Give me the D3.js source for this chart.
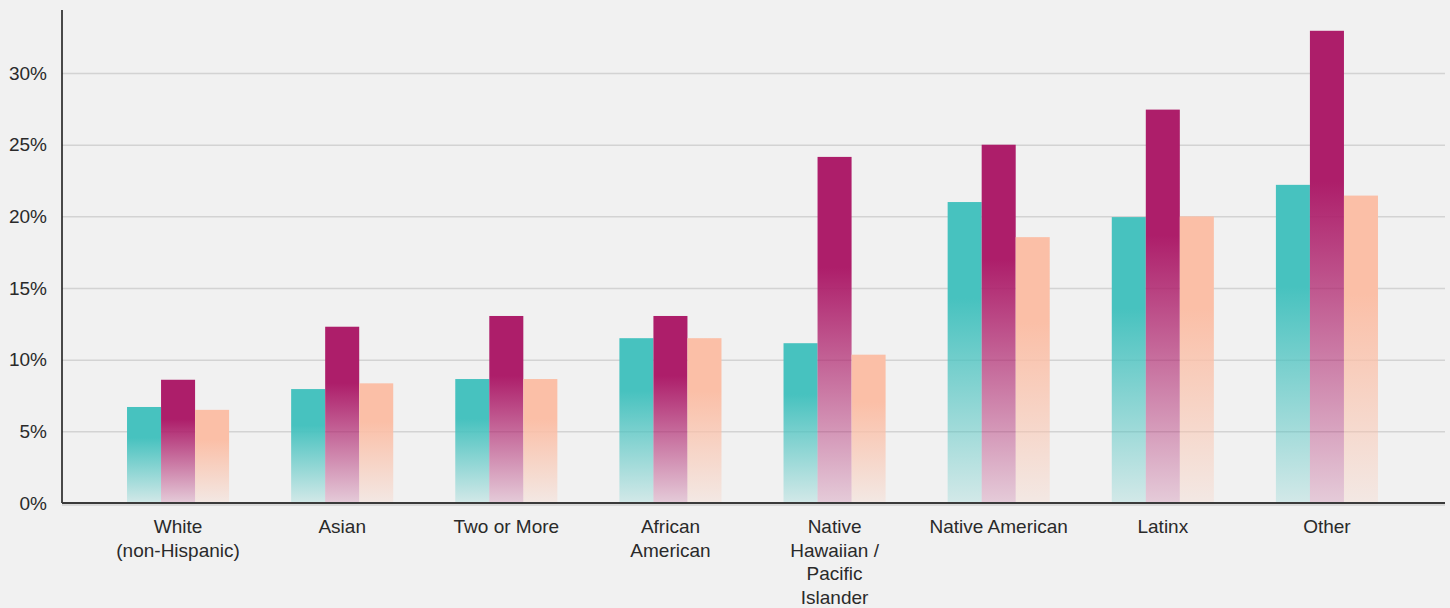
<!DOCTYPE html>
<html>
<head>
<meta charset="utf-8">
<script src="https://cdn.jsdelivr.net/npm/d3@7"></script>
<style>
  html, body { margin: 0; padding: 0; background: #f1f1f1; }
  svg { display: block; font-family: "Liberation Sans", Arial, sans-serif; }
</style>
</head>
<body>
<svg id="chart" width="1450" height="608"></svg>
<script>
// Data
var categories = ["White\n(non-Hispanic)", "Asian", "Two or More", "African\nAmerican",
  "Native\nHawaiian /\nPacific\nIslander", "Native American", "Latinx", "Other"];
var seriesNames = ["a", "b", "c"];
var seriesA = [6.7, 7.95, 8.65, 11.5, 11.15, 21.0, 19.95, 22.2];
var seriesB = [8.6, 12.3, 13.05, 13.05, 24.15, 25.0, 27.45, 32.95];
var seriesC = [6.5, 8.35, 8.65, 11.5, 10.35, 18.55, 20.0, 21.45];
var yTicks = [0, 5, 10, 15, 20, 25, 30];
var colors = ["#47c2bf", "#ad1e6a", "#fbbfa7"];

var svg = d3.select("#chart");
var axisX = 62, plotRight = 1445, baseY = 503, topY = 10;

var y = d3.scaleLinear().domain([0, 34.4]).range([baseY, topY]);
var x = d3.scaleBand().domain(categories).range([96, 1409]).paddingInner(0.378).paddingOuter(0.189);
var xs = d3.scaleBand().domain(seriesNames).range([0, x.bandwidth()]);

// Gradients: solid at top, fading toward the baseline
var defs = svg.append("defs");
colors.forEach(function (c, i) {
  var g = defs.append("linearGradient")
    .attr("id", "grad" + i)
    .attr("x1", 0).attr("y1", 0).attr("x2", 0).attr("y2", 1);
  g.append("stop").attr("offset", "0").attr("stop-color", c).attr("stop-opacity", 1);
  g.append("stop").attr("offset", "0.32").attr("stop-color", c).attr("stop-opacity", 1);
  g.append("stop").attr("offset", "1").attr("stop-color", c).attr("stop-opacity", 0.18);
});

// Grid lines
svg.append("g")
  .attr("transform", "translate(" + axisX + ",0)")
  .call(d3.axisLeft(y).tickValues(yTicks.slice(1)).tickSize(-(plotRight - axisX)).tickFormat(""))
  .call(function (g) {
    g.select(".domain").remove();
    g.selectAll("line").attr("stroke", "#d3d3d3").attr("stroke-width", 1.5);
  });

// Bars
var rows = categories.map(function (c, i) { return [seriesA[i], seriesB[i], seriesC[i]]; });
var groups = svg.append("g").selectAll("g")
  .data(rows)
  .enter().append("g")
  .attr("transform", function (d, i) { return "translate(" + x(categories[i]) + ",0)"; });
groups.selectAll("rect")
  .data(function (d) { return d; })
  .enter().append("rect")
  .attr("x", function (d, j) { return xs(seriesNames[j]); })
  .attr("y", function (d) { return y(d); })
  .attr("width", xs.bandwidth())
  .attr("height", function (d) { return baseY - y(d); })
  .attr("fill", function (d, j) { return "url(#grad" + j + ")"; });

// Y axis
svg.append("g")
  .attr("transform", "translate(" + axisX + ",0)")
  .call(d3.axisLeft(y).tickValues(yTicks).tickSize(0).tickPadding(15).tickFormat(function (d) { return d + "%"; }))
  .call(function (g) {
    g.select(".domain").remove();
    g.selectAll("text").attr("font-size", 19).attr("fill", "#2a2a2a")
      .attr("font-family", "'Liberation Sans', Arial, sans-serif");
  });
svg.append("line")
  .attr("x1", axisX).attr("x2", axisX).attr("y1", topY).attr("y2", baseY)
  .attr("stroke", "#111").attr("stroke-width", 1.5);

// Baseline
svg.append("line")
  .attr("x1", axisX).attr("x2", plotRight).attr("y1", baseY + 2).attr("y2", baseY + 2)
  .attr("stroke", "#d0d0d0").attr("stroke-width", 1.5);
svg.append("line")
  .attr("x1", axisX).attr("x2", plotRight).attr("y1", baseY).attr("y2", baseY)
  .attr("stroke", "#3a3a3a").attr("stroke-width", 2);

// X labels
var xAxis = svg.append("g")
  .attr("transform", "translate(0," + baseY + ")")
  .call(d3.axisBottom(x).tickSize(0).tickFormat(""));
xAxis.select(".domain").remove();
xAxis.selectAll(".tick").each(function (d) {
  var t = d3.select(this).append("text")
    .attr("text-anchor", "middle")
    .attr("font-size", 19)
    .attr("fill", "#2a2a2a")
    .attr("font-family", "'Liberation Sans', Arial, sans-serif");
  d.split("\n").forEach(function (line, k) {
    t.append("tspan").attr("x", 0).attr("y", 30 + k * 23.7).text(line);
  });
});
</script>
</body>
</html>
